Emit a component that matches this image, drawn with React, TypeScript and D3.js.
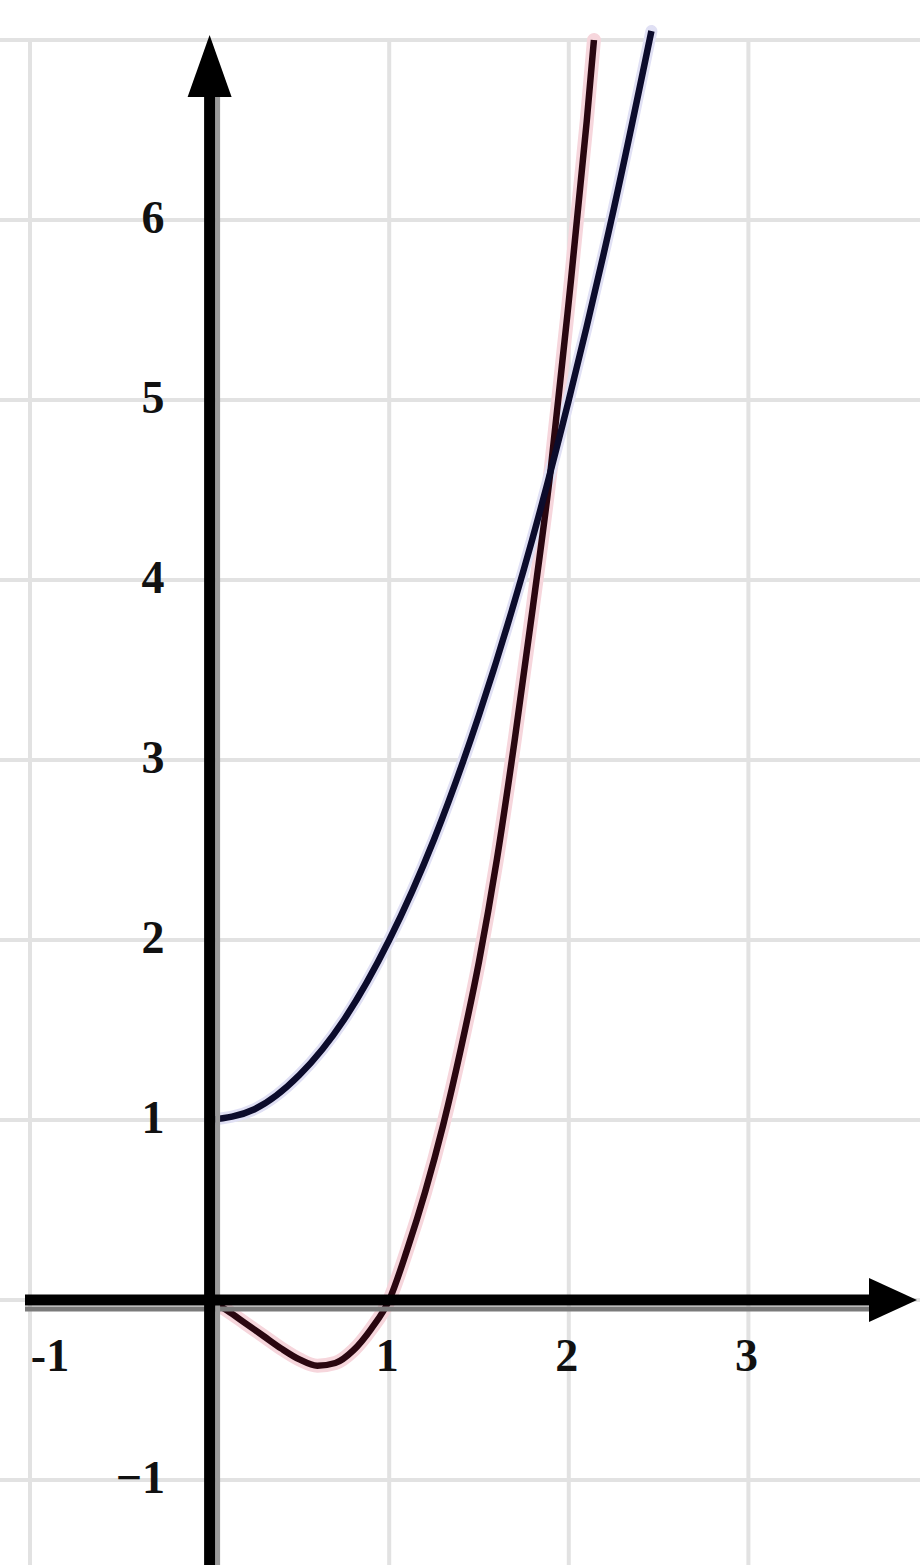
import React from "react";
import * as d3 from "d3";

// ---- data ----
const xTicks = [-1, 1, 2, 3];
const xTickLabels = ["-1", "1", "2", "3"];
const yTicks = [-1, 1, 2, 3, 4, 5, 6];
const yTickLabels = ["\u22121", "1", "2", "3", "4", "5", "6"];
const gridX = [-1, 0, 1, 2, 3, 4];
const gridY = [-1, 0, 1, 2, 3, 4, 5, 6, 7];

// blue curve (upper parabola-like)
const blueX = [0, 0.25, 0.5, 0.75, 1.0, 1.25, 1.5, 1.75, 2.0, 2.25, 2.46];
const blueY = [1, 1.06, 1.25, 1.56, 2.0, 2.56, 3.25, 4.06, 5.0, 6.06, 7.05];

// dark red curve (dips below axis then rises steeply)
const redX = [0, 0.1, 0.2, 0.3, 0.4, 0.5, 0.6, 0.7, 0.8, 0.9, 1.0, 1.1, 1.2, 1.3, 1.4, 1.5, 1.6, 1.7, 1.8, 1.9, 2.0, 2.1, 2.14];
const redY = [0, -0.06, -0.13, -0.2, -0.27, -0.33, -0.365, -0.35, -0.28, -0.16, 0, 0.28, 0.6, 0.97, 1.4, 1.88, 2.45, 3.12, 3.85, 4.62, 5.55, 6.55, 7.0];

const W = 920;
const H = 1565;

export default function App() {
  const x = d3.scaleLinear().domain([-1, 4]).range([30, 928]);
  const y = d3.scaleLinear().domain([-1, 7]).range([1480, 40]);

  const line = d3
    .line<[number, number]>()
    .x((d) => x(d[0]))
    .y((d) => y(d[1]))
    .curve(d3.curveMonotoneX);

  const blue = line(blueX.map((v, i) => [v, blueY[i]] as [number, number])) || "";
  const red = line(redX.map((v, i) => [v, redY[i]] as [number, number])) || "";

  const x0 = x(0);
  const y0 = y(0);
  const font = "'Liberation Serif', 'DejaVu Serif', serif";

  return (
    <div style={{ position: "absolute", left: 0, top: 0 }}>
      <svg width={W} height={H} viewBox={`0 0 ${W} ${H}`} style={{ display: "block", background: "#fff" }}>
        <rect x={0} y={0} width={W} height={H} fill="#ffffff" />
        {/* grid */}
        <g stroke="#e2e2e2" strokeWidth={4}>
          {gridX.map((g) => (
            <line key={"gx" + g} x1={x(g)} x2={x(g)} y1={y(7)} y2={H} />
          ))}
          {gridY.map((g) => (
            <line key={"gy" + g} x1={0} x2={W} y1={y(g)} y2={y(g)} />
          ))}
        </g>

        {/* curves: halos then cores */}
        <path d={red} fill="none" stroke="#f6d6dc" strokeWidth={14} strokeLinecap="round" />
        <path d={blue} fill="none" stroke="#e0e0f4" strokeWidth={12} strokeLinecap="round" />
        <path d={red} fill="none" stroke="#2a0710" strokeWidth={6.5} />
        <path d={blue} fill="none" stroke="#0c0c2c" strokeWidth={6.5} />

        {/* axes */}
        <line x1={25} x2={880} y1={y0 + 9} y2={y0 + 9} stroke="#7a7a7a" strokeWidth={5} />
        <line x1={x0 + 8} x2={x0 + 8} y1={95} y2={H} stroke="#9a9a9a" strokeWidth={5} />
        <line x1={25} x2={880} y1={y0} y2={y0} stroke="#000" strokeWidth={11} />
        <line x1={x0} x2={x0} y1={90} y2={H} stroke="#000" strokeWidth={11} />
        <polygon points={`${x0},35 ${x0 - 22},97 ${x0 + 22},97`} fill="#000" />
        <polygon points={`917,${y0} 869,${y0 - 22} 869,${y0 + 22}`} fill="#000" />

        {/* tick labels */}
        <g fontFamily={font} fontWeight="bold" fontSize={46} fill="#111">
          {xTicks.map((t, i) => (
            <text key={"xt" + t} x={t === -1 ? x(t) + 20 : x(t) - 2} y={y0 + 60} textAnchor="middle" dominantBaseline="middle">
              {xTickLabels[i]}
            </text>
          ))}
          {yTicks.map((t, i) => (
            <text
              key={"yt" + t}
              x={t < 0 ? 165 : 153}
              y={y(t) + 2}
              textAnchor={t < 0 ? "end" : "middle"}
              dominantBaseline="middle"
            >
              {yTickLabels[i]}
            </text>
          ))}
        </g>
      </svg>
    </div>
  );
}
